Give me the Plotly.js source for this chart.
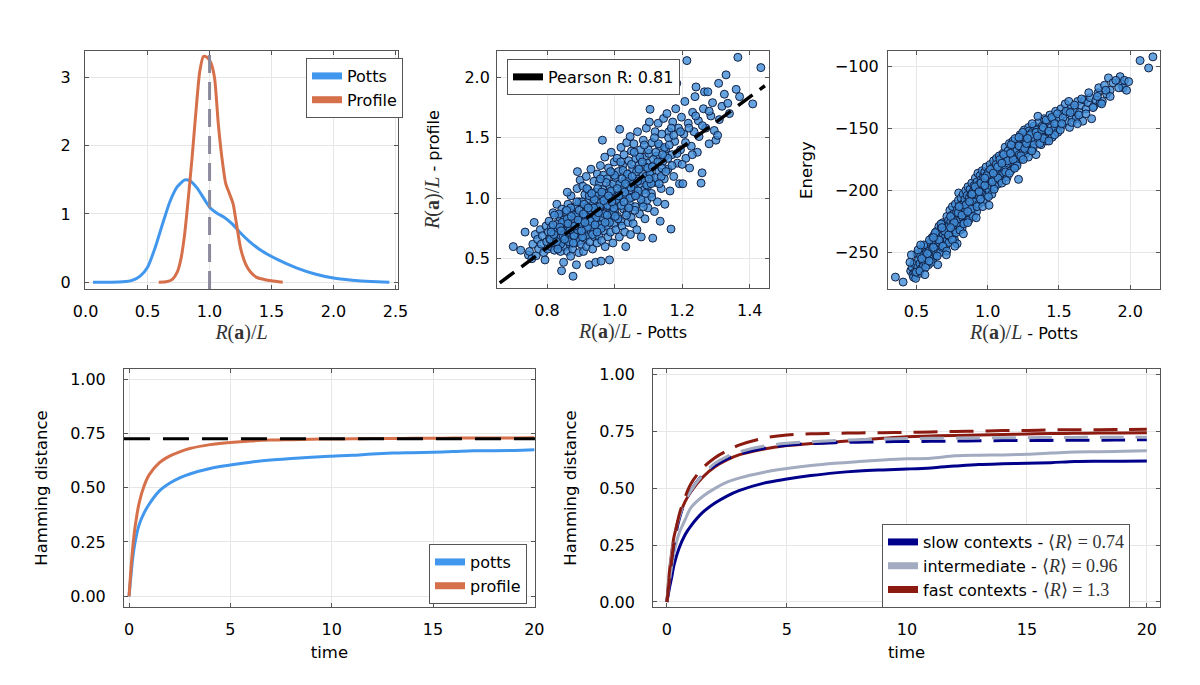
<!DOCTYPE html>
<html>
<head>
<meta charset="utf-8">
<script src="https://cdn.plot.ly/plotly-3.0.1.min.js"></script>
<style>body{margin:0;background:#fff}</style>
</head>
<body>
<div id="myDiv" style="width:1200px;height:685px"></div>
<script>
// density of R(a)/L
var pottsDensX = [0.06, 0.2, 0.3, 0.38, 0.44, 0.5, 0.56, 0.62, 0.68, 0.74, 0.8, 0.84, 0.9, 0.96, 1.0, 1.06, 1.12, 1.18, 1.24, 1.32, 1.42, 1.55, 1.7, 1.85, 2.0, 2.15, 2.3, 2.45];
var pottsDensY = [0, 0, 0.005, 0.03, 0.09, 0.22, 0.5, 0.85, 1.18, 1.4, 1.5, 1.49, 1.38, 1.21, 1.1, 1.01, 0.95, 0.86, 0.74, 0.6, 0.46, 0.33, 0.21, 0.12, 0.06, 0.03, 0.01, 0];
var profDensX = [0.59, 0.65, 0.7, 0.74, 0.77, 0.8, 0.83, 0.86, 0.89, 0.92, 0.95, 0.98, 1.01, 1.04, 1.07, 1.1, 1.13, 1.16, 1.19, 1.22, 1.25, 1.29, 1.33, 1.38, 1.44, 1.5, 1.59];
var profDensY = [0, 0.005, 0.04, 0.15, 0.35, 0.72, 1.26, 1.85, 2.5, 3.08, 3.31, 3.3, 3.22, 3.0, 2.33, 1.82, 1.45, 1.3, 1.15, 0.82, 0.5, 0.27, 0.15, 0.07, 0.04, 0.02, 0];
var refRatio = 1.0;

// R/L potts vs R/L profile
var corrX = [0.700,0.722,0.735,0.745,0.748,
 0.755,0.758,0.762,0.765,0.768,0.772,0.775,0.78,0.783,0.786,0.79,0.794,0.797,0.799,
 0.802,0.804,0.806,0.808,0.811,0.813,0.815,0.818,0.82,0.822,0.825,0.827,0.829,0.831,0.834,0.836,0.838,0.84,0.842,0.844,0.846,0.848,0.849,0.85,0.843,
 0.852,0.853,0.855,0.857,0.859,0.861,0.862,0.864,0.866,0.868,0.869,0.871,0.873,0.874,0.876,0.877,0.878,0.88,0.882,0.883,0.885,0.887,0.888,0.889,0.891,0.892,0.894,0.895,0.896,0.897,0.898,0.899,0.86,0.87,0.89,
 0.901,0.902,0.903,0.904,0.906,0.907,0.908,0.909,0.911,0.912,0.913,0.915,0.916,0.917,0.918,0.92,0.921,0.922,0.924,0.925,0.926,0.927,0.929,0.93,0.931,0.933,0.934,0.935,0.937,0.938,0.939,0.941,0.942,0.944,0.945,0.946,0.947,0.948,0.949,0.95,
 0.951,0.952,0.953,0.955,0.956,0.957,0.958,0.96,0.961,0.962,0.964,0.965,0.966,0.967,0.969,0.97,0.971,0.972,0.974,0.975,0.976,0.978,0.979,0.98,0.982,0.983,0.985,0.986,0.987,0.988,0.99,0.991,0.992,0.994,0.995,0.996,0.997,0.998,0.999,0.993,
 1.001,1.003,1.004,1.006,1.007,1.009,1.011,1.012,1.014,1.015,1.016,1.018,1.019,1.021,1.022,1.024,1.025,1.027,1.028,1.03,1.031,1.033,1.034,1.036,1.037,1.039,1.04,1.042,1.043,1.045,1.046,1.047,1.048,1.049,1.05,
 1.052,1.054,1.055,1.057,1.059,1.061,1.063,1.065,1.066,1.068,1.07,1.072,1.074,1.076,1.077,1.079,1.081,1.083,1.085,1.087,1.089,1.09,1.092,1.094,1.095,1.097,1.098,1.099,
 1.101,1.103,1.105,1.107,1.109,1.111,1.113,1.115,1.118,1.12,1.122,1.125,1.127,1.129,1.131,1.133,1.135,1.138,1.14,1.142,1.145,1.148,1.147,1.149,
 1.152,1.155,1.158,1.161,1.164,1.167,1.17,1.172,1.175,1.178,1.181,1.184,1.186,1.189,1.192,1.195,1.198,
 1.202,1.205,1.208,1.211,1.214,1.218,1.222,1.227,1.231,1.235,1.238,1.241,1.245,1.248,
 1.25,1.256,1.259,1.263,1.266,1.27,1.276,1.28,1.285,1.29,1.295,
 1.30,1.305,1.308,1.31,1.318,1.325,1.33,1.335,1.34,
 1.365,1.36,1.37,1.409,1.433,1.47];
var corrY = [0.60,0.57,0.72,0.53,0.56,
 0.50,0.62,0.80,0.70,0.525,0.66,0.58,0.74,0.62,0.69,0.55,0.49,0.77,0.64,
 0.58,0.72,0.81,0.66,0.60,0.76,0.69,0.88,0.63,0.57,0.74,0.67,0.95,0.79,0.61,0.71,0.84,0.56,0.68,0.91,0.75,0.64,0.47,0.82,0.40,
 0.60,0.73,0.89,0.67,0.79,0.56,0.95,0.70,0.84,0.62,0.76,1.02,0.66,0.88,0.58,0.355,0.74,0.81,0.69,0.93,0.63,0.45,0.78,1.08,0.71,0.86,0.55,0.97,0.65,0.80,1.15,0.73,1.05,0.52,1.22,
 0.62,0.84,0.97,0.71,1.10,0.78,0.56,0.90,0.67,1.03,0.82,0.74,1.18,0.60,0.93,0.86,0.69,1.07,0.77,0.45,0.99,0.64,0.88,1.24,0.72,0.83,1.01,0.58,0.95,0.76,1.14,0.68,0.87,0.47,1.05,0.80,0.93,0.63,1.20,0.74,
 0.86,1.02,0.69,1.13,0.91,0.78,1.27,0.48,0.97,0.65,1.48,1.07,0.84,1.19,0.73,0.95,1.34,0.60,1.04,0.88,0.77,1.16,0.99,0.68,1.25,0.82,0.49,1.10,0.93,0.72,1.38,1.01,0.86,1.21,0.63,0.96,1.12,0.79,1.30,1.05,
 0.90,1.17,0.74,1.04,1.33,0.85,1.22,0.97,0.68,1.57,1.11,0.81,1.42,1.00,0.77,1.27,1.08,0.91,1.36,0.72,1.15,0.60,1.03,1.46,0.88,1.20,0.80,1.31,1.06,0.95,1.51,0.70,1.13,0.84,1.39,
 1.01,1.24,0.79,1.45,1.09,0.93,1.33,1.16,0.74,1.55,1.03,1.27,0.87,1.40,1.12,0.68,1.21,0.96,1.48,1.07,1.34,0.83,1.18,1.58,0.98,1.29,1.10,0.92,
 1.37,1.63,1.735,1.19,1.04,1.46,0.67,1.27,0.89,1.55,1.13,1.35,0.97,1.62,1.22,1.43,0.81,1.08,1.53,1.30,1.66,1.986,1.16,0.95,
 1.41,1.70,1.24,1.55,1.06,0.745,1.36,1.63,1.18,1.47,1.74,1.95,1.29,1.58,1.12,1.40,1.67,
 1.12,1.53,1.80,1.33,2.138,1.62,1.25,1.43,1.71,1.55,1.84,1.92,1.38,1.64,
 1.51,1.125,1.21,1.74,1.88,1.58,1.88,1.45,1.68,1.79,1.56,
 1.48,1.52,1.95,1.65,1.76,1.86,2.02,1.785,1.70,
 2.165,1.90,1.84,1.78,2.08,2.08];
// dense core of the same cloud
var corrCoreX = [0.81,0.83,0.82,0.84,0.845,0.835,0.855,0.86,0.865,0.87,0.875,0.88,0.885,0.89,0.895,0.90,0.905,0.91,0.915,0.92,0.925,0.93,0.935,0.94,0.945,0.95,0.955,0.96,0.965,0.97,0.975,0.98,0.985,0.99,0.995,1.0,1.005,1.01,1.015,1.02,1.025,1.03,1.035,1.04,1.045,1.05,1.055,1.06,1.065,1.07,1.075,1.08,1.085,1.09,1.095,1.10,1.105,1.11,1.115,1.12,1.13,1.14,1.15,1.16,1.17,
 0.818,0.828,0.838,0.848,0.858,0.868,0.878,0.888,0.898,0.908,0.918,0.928,0.938,0.948,0.958,0.968,0.978,0.988,0.998,1.008,1.018,1.028,1.038,1.048,1.058,1.068,1.078,1.088,1.098,1.108,1.118,1.128,1.138,1.148,1.158,1.168,
 0.812,0.822,0.832,0.842,0.852,0.862,0.872,0.882,0.892,0.902,0.912,0.922,0.932,0.942,0.952,0.962,0.972,0.982,0.992,1.002,1.012,1.022,1.032,1.042,1.052,1.062,1.072,1.082,1.092,1.102,1.112,1.122,1.132,1.142,1.152,1.162,1.175,1.185,1.195,1.21,1.22,1.23,1.24,1.26,1.28,1.20];
var corrCoreY = [0.66,0.73,0.70,0.62,0.80,0.87,0.71,0.83,0.64,0.92,0.77,0.69,0.86,0.74,0.90,0.81,0.68,0.95,0.85,0.76,1.02,0.90,0.70,0.99,0.84,1.08,0.93,0.75,1.01,0.87,1.13,0.94,0.80,1.06,0.89,1.19,0.99,0.83,1.12,0.94,1.23,1.05,0.86,1.16,1.00,1.28,1.12,0.90,1.22,1.06,1.34,1.15,0.93,1.26,1.11,1.40,1.20,1.01,1.32,1.17,1.45,1.25,1.35,1.50,1.27,
 0.78,0.64,0.76,0.69,0.90,0.74,0.63,0.97,0.79,0.87,1.08,0.81,0.92,0.72,1.16,0.98,0.86,1.22,0.92,1.08,1.30,0.97,1.20,1.09,1.38,1.14,0.99,1.44,1.25,1.12,1.50,1.30,1.18,1.42,1.33,1.58,
 0.72,0.86,0.58,0.73,0.66,0.79,0.85,0.77,0.82,0.73,0.80,0.92,1.04,0.78,0.88,1.05,0.80,1.02,0.97,0.85,1.02,1.16,1.12,0.92,1.18,1.02,1.24,1.30,1.04,1.16,1.26,1.38,1.12,1.36,1.22,1.44,1.52,1.37,1.55,1.46,1.58,1.36,1.68,1.60,1.72,1.28];
var fitX = [0.66, 1.445];
var fitY = [0.30, 1.93];

// R/L potts vs energy
var energyX = [0.353,0.407,0.46,0.47,0.475,0.48,0.485,0.49,0.495,
 0.505,0.51,0.515,0.52,0.525,0.53,0.535,0.54,0.545,0.55,0.555,0.56,0.565,0.57,0.575,0.58,0.585,0.59,0.595,
 0.60,0.605,0.61,0.614,0.618,0.622,0.626,0.63,0.634,0.638,0.642,0.646,0.65,0.654,0.658,0.662,0.666,0.67,0.674,0.678,0.682,0.686,0.69,0.694,0.698,
 0.702,0.705,0.708,0.711,0.714,0.717,0.72,0.723,0.726,0.729,0.732,0.735,0.738,0.741,0.744,0.747,0.75,0.753,0.756,0.759,0.762,0.765,0.768,0.771,0.774,0.777,0.78,0.783,0.786,0.789,0.792,0.795,0.797,0.799,
 0.802,0.805,0.808,0.811,0.814,0.817,0.82,0.823,0.826,0.829,0.832,0.835,0.838,0.841,0.844,0.847,0.85,0.853,0.856,0.859,0.862,0.865,0.868,0.871,0.874,0.877,0.88,0.883,0.886,0.889,0.892,0.895,0.898,
 0.902,0.905,0.908,0.911,0.914,0.917,0.92,0.923,0.926,0.929,0.932,0.935,0.938,0.941,0.944,0.947,0.95,0.953,0.956,0.959,0.962,0.965,0.968,0.971,0.974,0.977,0.98,0.983,0.986,0.989,0.992,0.995,0.998,
 1.002,1.006,1.01,1.014,1.018,1.022,1.026,1.03,1.034,1.038,1.042,1.046,1.05,1.054,1.058,1.062,1.066,1.07,1.074,1.078,1.082,1.086,1.09,1.094,1.098,
 1.103,1.108,1.113,1.118,1.123,1.128,1.133,1.138,1.143,1.148,1.153,1.158,1.163,1.168,1.173,1.178,1.183,1.188,1.193,1.198,1.217,
 1.204,1.21,1.216,1.222,1.228,1.234,1.24,1.246,1.252,1.258,1.264,1.27,1.276,1.282,1.288,1.294,1.299,1.29,
 1.305,1.312,1.319,1.326,1.333,1.34,1.347,1.354,1.361,1.368,1.375,1.382,1.389,1.396,
 1.405,1.413,1.421,1.429,1.437,1.445,1.453,1.461,1.469,1.477,1.485,1.493,
 1.505,1.515,1.525,1.535,1.545,1.555,1.565,1.575,1.585,1.595,
 1.61,1.62,1.632,1.645,1.655,1.668,1.68,1.692,
 1.705,1.73,1.72,1.745,1.76,1.775,1.79,1.78,
 1.805,1.82,1.835,1.848,1.86,1.88,
 1.93,1.94,1.95,1.96,1.975,1.99,2.07,2.13,2.16];
var energyY = [-270,-274,-265,-262,-268,-270,-259,-266,-271,
 -251,-262,-256,-267,-259,-253,-263,-248,-257,-261,-252,-246,-258,-250,-255,-244,-260,-249,-253,
 -242,-251,-238,-247,-255,-244,-236,-249,-241,-252,-233,-245,-239,-248,-229,-242,-236,-250,-231,-240,-246,-226,-236,-243,-230,
 -238,-227,-245,-233,-221,-240,-230,-236,-224,-242,-228,-216,-234,-225,-238,-220,-231,-213,-227,-236,-219,-229,-240,-222,-211,-232,-218,-226,-243,-215,-224,-208,-202,-230,
 -219,-228,-212,-223,-206,-217,-231,-214,-222,-203,-218,-210,-226,-207,-215,-200,-221,-211,-204,-218,-197,-213,-224,-206,-216,-199,-210,-203,-219,-194,-208,-214,-201,
 -206,-196,-214,-202,-190,-209,-199,-217,-193,-204,-186,-200,-211,-195,-205,-188,-198,-207,-191,-201,-184,-196,-209,-189,-200,-193,-185,-203,-195,-181,-198,-190,-204,
 -193,-185,-200,-190,-179,-196,-187,-203,-182,-192,-176,-188,-197,-183,-191,-174,-186,-195,-180,-189,-172,-184,-192,-178,-187,
 -181,-170,-186,-176,-165,-182,-173,-189,-168,-178,-162,-175,-184,-169,-177,-160,-172,-181,-166,-174,-191,
 -168,-177,-160,-171,-155,-165,-174,-158,-168,-151,-162,-170,-156,-165,-149,-159,-167,-152,
 -160,-153,-166,-148,-158,-171,-151,-161,-145,-155,-163,-148,-156,-142,
 -151,-160,-144,-153,-139,-149,-157,-142,-150,-136,-146,-153,
 -142,-134,-147,-138,-130,-144,-136,-149,-133,-141,
 -135,-142,-128,-137,-131,-144,-127,-134,
 -129,-142,-125,-132,-127,-121,-129,-117,
 -128,-115,-122,-109,-119,-113,
 -108,-114,-117,-111,-119,-112,-95,-101,-92];
var energyCoreX = [0.455,0.465,0.5,0.512,0.525,0.538,0.552,0.565,0.578,0.592,0.606,0.62,0.633,0.646,0.66,0.673,0.686,0.7,0.713,0.726,0.74,0.753,0.766,0.78,0.793,0.806,0.82,0.833,0.846,0.86,0.873,0.886,0.9,0.913,0.926,0.94,0.953,0.966,0.98,0.993,1.006,1.02,1.033,1.046,1.06,1.073,1.086,1.1,1.113,1.126,1.14,1.153,1.166,1.18,1.193,1.206,1.22,1.233,1.246,1.26,1.273,1.286,1.3,1.313,1.326,1.34,1.353,1.366,1.38,1.393,1.41,1.43,1.45,1.47,1.49,1.51,1.53,1.55,1.57,1.59,1.61,1.64,1.66,1.69,1.71,1.74,1.77,1.8,1.83,1.86,1.9,1.92,
 0.53,0.56,0.59,0.62,0.65,0.68,0.71,0.74,0.77,0.8,0.83,0.86,0.89,0.92,0.95,0.98,1.01,1.04,1.07,1.1,1.13,1.16,1.19,1.22,1.25,1.28,1.31,1.35,1.39,1.43,1.47,1.52,1.58,1.63];
var energyCoreY = [-258,-252,-266,-248,-265,-255,-244,-262,-251,-240,-258,-246,-234,-253,-240,-227,-245,-233,-249,-236,-221,-240,-226,-234,-218,-232,-220,-227,-212,-226,-209,-215,-221,-197,-213,-201,-194,-213,-196,-188,-205,-183,-193,-199,-179,-190,-175,-194,-171,-185,-176,-186,-163,-175,-158,-180,-164,-172,-153,-166,-162,-173,-155,-146,-163,-153,-140,-162,-151,-158,-143,-160,-141,-155,-138,-151,-141,-136,-128,-145,-131,-139,-126,-138,-121,-133,-124,-130,-119,-124,-111,-117,
 -244,-268,-257,-238,-260,-230,-252,-230,-245,-213,-235,-217,-203,-222,-207,-190,-212,-186,-181,-178,-192,-170,-182,-157,-175,-158,-168,-156,-149,-152,-146,-146,-137,-146];

// hamming distance vs time
var time = [0, 0.1, 0.2, 0.3, 0.5, 0.75, 1, 1.5, 2, 2.5, 3, 4, 5, 6, 7, 8, 9, 10, 11, 12, 13, 14, 15, 16, 17, 18, 19, 20];
var hamPotts = [0, 0.1, 0.19, 0.25, 0.33, 0.385, 0.425, 0.485, 0.52, 0.545, 0.563, 0.588, 0.604, 0.617, 0.627, 0.634, 0.64, 0.645, 0.649, 0.655, 0.659, 0.661, 0.663, 0.666, 0.67, 0.67, 0.671, 0.674];
var hamProfile = [0, 0.13, 0.24, 0.32, 0.43, 0.51, 0.56, 0.615, 0.645, 0.665, 0.68, 0.698, 0.708, 0.715, 0.719, 0.721, 0.723, 0.724, 0.725, 0.726, 0.726, 0.727, 0.727, 0.728, 0.728, 0.729, 0.729, 0.73];
var hamLimit = 0.725;

var slowPotts = [0, 0.06, 0.11, 0.165, 0.235, 0.295, 0.335, 0.395, 0.435, 0.466, 0.49, 0.522, 0.541, 0.556, 0.568, 0.576, 0.581, 0.585, 0.59, 0.598, 0.605, 0.608, 0.61, 0.613, 0.618, 0.619, 0.619, 0.62];
var interPotts = [0, 0.09, 0.16, 0.22, 0.3, 0.36, 0.415, 0.465, 0.5, 0.527, 0.545, 0.57, 0.587, 0.6, 0.61, 0.618, 0.625, 0.63, 0.632, 0.643, 0.646, 0.647, 0.65, 0.655, 0.66, 0.661, 0.663, 0.665];
var fastPotts = [0, 0.13, 0.22, 0.29, 0.37, 0.44, 0.485, 0.55, 0.595, 0.625, 0.647, 0.672, 0.688, 0.697, 0.704, 0.712, 0.72, 0.727, 0.73, 0.733, 0.735, 0.737, 0.739, 0.741, 0.742, 0.743, 0.744, 0.745];
var slowProfile = [0, 0.1, 0.19, 0.26, 0.36, 0.44, 0.49, 0.56, 0.6, 0.63, 0.65, 0.675, 0.69, 0.697, 0.701, 0.703, 0.705, 0.706, 0.707, 0.708, 0.709, 0.71, 0.71, 0.711, 0.712, 0.712, 0.713, 0.714];
var interProfile = [0, 0.12, 0.21, 0.28, 0.37, 0.44, 0.49, 0.56, 0.61, 0.64, 0.66, 0.685, 0.698, 0.705, 0.71, 0.714, 0.717, 0.719, 0.72, 0.721, 0.722, 0.723, 0.723, 0.724, 0.724, 0.725, 0.725, 0.725];
var fastProfile = [0, 0.1, 0.19, 0.27, 0.38, 0.46, 0.52, 0.59, 0.635, 0.665, 0.69, 0.72, 0.735, 0.74, 0.742, 0.744, 0.745, 0.746, 0.748, 0.75, 0.752, 0.754, 0.755, 0.757, 0.758, 0.758, 0.759, 0.76];

var groupNames = ['slow contexts - ', 'intermediate - ', 'fast contexts - '];
var groupMeanR = ['0.74', '0.96', '1.3'];

var blue = '#4197ed', orange = '#d6704a';
var navy = '#00008b', grey = '#a3abc0', darkred = '#8b1a10';
var serif = 'Liberation Serif';
function math(s, size){ return '<span style="font-family:' + serif + ';font-size:' + size + 'px;color:#333">' + s + '</span>'; }
var RaL = math('<i>R</i>(<b>a</b>)/<i>L</i>', 20);

function leg(name, color, legendId, xa, ya){
  return {x:[null], y:[null], mode:'lines', name:name, legend:legendId,
    xaxis:xa, yaxis:ya, line:{color:color, width:7}, hoverinfo:'skip'};
}

var markerStyle = {size:8, color:'rgba(64,140,215,0.8)', line:{color:'rgba(18,32,66,1)', width:1}};

var data = [
  {x:pottsDensX, y:pottsDensY, mode:'lines', line:{color:blue, width:3, shape:'spline', smoothing:0.6}, showlegend:false, xaxis:'x', yaxis:'y'},
  {x:profDensX, y:profDensY, mode:'lines', line:{color:orange, width:3, shape:'spline', smoothing:0.6}, showlegend:false, xaxis:'x', yaxis:'y'},
  leg('Potts', blue, 'legend', 'x', 'y'),
  leg('Profile', orange, 'legend', 'x', 'y'),

  {x:corrX.concat(corrCoreX), y:corrY.concat(corrCoreY), mode:'markers', marker:markerStyle, showlegend:false, xaxis:'x2', yaxis:'y2'},
  {x:fitX, y:fitY, mode:'lines', line:{color:'black', width:3.5, dash:'18px,9px'}, showlegend:false, xaxis:'x2', yaxis:'y2'},
  leg('Pearson R: 0.81', 'black', 'legend2', 'x2', 'y2'),

  {x:energyX.concat(energyCoreX), y:energyY.concat(energyCoreY), mode:'markers', marker:markerStyle, showlegend:false, xaxis:'x3', yaxis:'y3'},

  {x:time, y:hamPotts, mode:'lines', line:{color:blue, width:3, shape:'spline'}, showlegend:false, xaxis:'x4', yaxis:'y4'},
  {x:time, y:hamProfile, mode:'lines', line:{color:orange, width:3, shape:'spline'}, showlegend:false, xaxis:'x4', yaxis:'y4'},
  leg('potts', blue, 'legend3', 'x4', 'y4'),
  leg('profile', orange, 'legend3', 'x4', 'y4'),

  {x:time, y:slowPotts, mode:'lines', line:{color:navy, width:3, shape:'spline'}, showlegend:false, xaxis:'x5', yaxis:'y5'},
  {x:time, y:interPotts, mode:'lines', line:{color:grey, width:3, shape:'spline'}, showlegend:false, xaxis:'x5', yaxis:'y5'},
  {x:time, y:fastPotts, mode:'lines', line:{color:darkred, width:3, shape:'spline'}, showlegend:false, xaxis:'x5', yaxis:'y5'},
  {x:time, y:slowProfile, mode:'lines', line:{color:navy, width:3, dash:'24px,12px', shape:'spline'}, showlegend:false, xaxis:'x5', yaxis:'y5'},
  {x:time, y:interProfile, mode:'lines', line:{color:grey, width:3, dash:'24px,12px', shape:'spline'}, showlegend:false, xaxis:'x5', yaxis:'y5'},
  {x:time, y:fastProfile, mode:'lines', line:{color:darkred, width:3, dash:'24px,12px', shape:'spline'}, showlegend:false, xaxis:'x5', yaxis:'y5'},
  leg(groupNames[0] + math('⟨<i>R</i>⟩ = ' + groupMeanR[0], 18), navy, 'legend4', 'x5', 'y5'),
  leg(groupNames[1] + math('⟨<i>R</i>⟩ = ' + groupMeanR[1], 18), grey, 'legend4', 'x5', 'y5'),
  leg(groupNames[2] + math('⟨<i>R</i>⟩ = ' + groupMeanR[2], 18), darkred, 'legend4', 'x5', 'y5')
];

function ax(extra){
  return Object.assign({
    showline:true, mirror:'ticks', linecolor:'#555', linewidth:1,
    ticks:'inside', ticklen:4, tickcolor:'#555',
    showgrid:true, gridcolor:'#e6e6e6', gridwidth:1, zeroline:false,
    tickfont:{size:16, color:'#000'}
  }, extra);
}

function legBox(x, y){
  return {x:x, y:y, xanchor:'left', yanchor:'top', bgcolor:'#fff', bordercolor:'#555', borderwidth:1,
    font:{size:16, color:'#000'}, itemwidth:30, tracegroupgap:0};
}

var layout = {
  width:1200, height:685,
  margin:{l:0, r:0, t:0, b:0},
  paper_bgcolor:'#fff', plot_bgcolor:'#fff',
  font:{family:'DejaVu Sans', size:16, color:'#000'},
  hovermode:false,

  xaxis: ax({domain:[0.0708, 0.3317], anchor:'y', range:[-0.005, 2.52], tickvals:[0,0.5,1,1.5,2,2.5], tickformat:'.1f', ticklabelstandoff:8,
    title:{text:RaL, standoff:2}}),
  yaxis: ax({domain:[0.5781, 0.9255], anchor:'x', range:[-0.1, 3.39], tickvals:[0,1,2,3], ticklabelstandoff:10}),

  xaxis2: ax({domain:[0.4142, 0.6408], anchor:'y2', range:[0.652, 1.457], tickvals:[0.8,1.0,1.2,1.4], tickformat:'.1f', ticklabelstandoff:8,
    title:{text:RaL + ' - Potts', font:{size:16}, standoff:2}}),
  yaxis2: ax({domain:[0.5796, 0.9255], anchor:'x2', range:[0.258, 2.217], tickvals:[0.5,1.0,1.5,2.0], tickformat:'.1f', ticklabelstandoff:3,
    title:{text:RaL + ' - profile', font:{size:16}, standoff:20}}),

  xaxis3: ax({domain:[0.74, 0.9667], anchor:'y3', range:[0.301, 2.21], tickvals:[0.5,1.0,1.5,2.0], tickformat:'.1f', ticklabelstandoff:8,
    title:{text:RaL + ' - Potts', font:{size:16}, standoff:2}}),
  yaxis3: ax({domain:[0.5781, 0.9255], anchor:'x3', range:[-279.6, -87.3], tickvals:[-250,-200,-150,-100], ticklabelstandoff:5,
    title:{text:'Energy', font:{size:16.5}, standoff:18}}),

  xaxis4: ax({domain:[0.1033, 0.4458], anchor:'y4', range:[-0.25, 20.03], tickvals:[0,5,10,15,20], ticklabelstandoff:8,
    title:{text:'time', font:{size:16.5}, standoff:8}}),
  yaxis4: ax({domain:[0.1139, 0.4613], anchor:'x4', range:[-0.049, 1.046], tickvals:[0,0.25,0.5,0.75,1], tickformat:'.2f', ticklabelstandoff:14,
    title:{text:'Hamming distance', font:{size:16.5}, standoff:18}}),

  xaxis5: ax({domain:[0.5442, 0.9667], anchor:'y5', range:[-0.58, 20.55], tickvals:[0,5,10,15,20], ticklabelstandoff:8,
    title:{text:'time', font:{size:16.5}, standoff:8}}),
  yaxis5: ax({domain:[0.1139, 0.4613], anchor:'x5', range:[-0.022, 1.025], tickvals:[0,0.25,0.5,0.75,1], tickformat:'.2f', ticklabelstandoff:14,
    title:{text:'Hamming distance', font:{size:16.5}, standoff:18}}),

  legend: legBox(0.255, 0.9153),
  legend2: legBox(0.4225, 0.9139),
  legend3: legBox(0.3575, 0.2058),
  legend4: legBox(0.735, 0.235),

  shapes: [
    {type:'line', xref:'x', yref:'y domain', x0:refRatio, x1:refRatio, y0:0, y1:1,
      line:{color:'#8a8a9c', width:3, dash:'18px,9px'}},
    {type:'line', xref:'x4 domain', yref:'y4', x0:0, x1:1, y0:hamLimit, y1:hamLimit,
      line:{color:'black', width:3, dash:'26px,13px'}}
  ]
};

Plotly.newPlot('myDiv', data, layout, {staticPlot:true, displayModeBar:false});
</script>
</body>
</html>
